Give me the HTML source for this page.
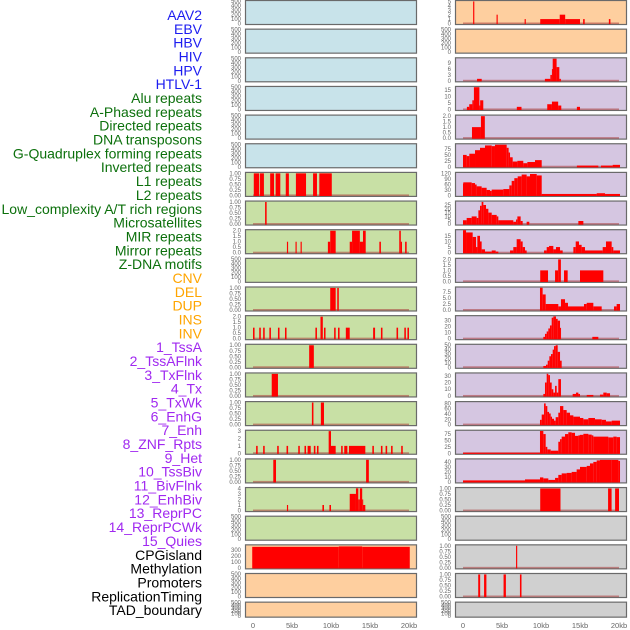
<!DOCTYPE html>
<html><head><meta charset="utf-8"><style>
body{margin:0;background:#fff;width:630px;height:630px;overflow:hidden}
svg{display:block}
.lab{font-family:"Liberation Sans",sans-serif;font-size:14px}
.tk{font-family:"Liberation Sans",sans-serif;font-size:6px;fill:#666}
.xt{font-family:"Liberation Sans",sans-serif;font-size:7.5px;fill:#666}
</style></head><body>
<svg id="c" width="630" height="630" xmlns="http://www.w3.org/2000/svg"></svg>
<script>
const labels = ["AAV2","EBV","HBV","HIV","HPV","HTLV-1","Alu repeats","A-Phased repeats","Directed repeats","DNA transposons","G-Quadruplex forming repeats","Inverted repeats","L1 repeats","L2 repeats","Low_complexity A/T rich regions","Microsatellites","MIR repeats","Mirror repeats","Z-DNA motifs","CNV","DEL","DUP","INS","INV","1_TssA","2_TssAFlnk","3_TxFlnk","4_Tx","5_TxWk","6_EnhG","7_Enh","8_ZNF_Rpts","9_Het","10_TssBiv","11_BivFlnk","12_EnhBiv","13_ReprPC","14_ReprPCWk","15_Quies","CPGisland","Methylation","Promoters","ReplicationTiming","TAD_boundary"];
const labelGroups = [6,13,5,15,5];
const groupColors = ["#1c1cf0","#0c700c","#ffa500","#a028f0","#000000"];
const T500 = ["0","100","200","300","400","500"];
const T1 = ["0.00","0.25","0.50","0.75","1.00"];
const T2 = ["0.0","0.5","1.0","1.5","2.0"];
const T3 = ["0","1","2","3"];
const T4 = ["0","1","2","3","4"];
const T5 = ["0","1","2","3","4","5"];
const T9 = ["0","3","6","9"];
const T15 = ["0","5","10","15"];
const T25 = ["0","5","10","15","20","25"];
const T30 = ["0","10","20","30"];
const T40 = ["0","10","20","30","40"];
const T50 = ["0","10","20","30","40","50"];
const T75 = ["0","25","50","75"];
const T80 = ["0","20","40","60","80"];
const T120 = ["0","30","60","90","120"];
const T300 = ["0","100","200","300"];
const T75b = ["0.0","2.5","5.0","7.5"];
const xTicks = [0,5,10,15,20];
const xTickLabels = ["0","5kb","10kb","15kb","20kb"];
const L6 = [[0.1,0.8,1],[0.9,1.4,1],[2.2,2.7,1],[2.9,3.5,1],[4.2,4.6,1],[5.5,6.8,1],[7.7,8.2,1],[8.5,10.1,1]];
const L7 = [[1.55,1.75,1]];
const L8 = [[4.35,4.5,1],[5.45,5.6,1],[6.1,6.25,1],[9.6,9.9,1],[9.9,10.6,2],[12.4,12.7,1],[12.7,13.7,2],[13.7,14.1,1],[14.1,14.45,2],[16.2,16.4,1],[18.75,18.95,2],[18.95,19.1,1],[19.5,19.7,1]];
const L10 = [[9.9,10.6,1],[10.8,11.0,1]];
const L11 = [[0.0,0.2,1],[0.8,1.0,1],[1.3,1.5,1],[2.1,2.3,1],[3.2,3.4,1],[4.1,4.3,1],[8.0,8.2,1],[8.65,8.95,2],[9.1,9.3,1],[10.4,10.6,1],[10.9,11.1,1],[11.9,12.4,1],[15.4,15.65,1],[16.4,16.6,1],[18.4,18.6,1],[19.4,19.6,1],[19.8,20.0,1]];
const L12 = [[7.2,7.8,1]];
const L13 = [[2.4,3.2,1]];
const L14 = [[7.55,7.75,1],[8.7,9.1,1]];
const L15 = [[0.4,0.6,1],[1.3,1.5,1],[3.1,3.3,1],[4.3,4.5,1],[5.8,6.0,1],[6.6,6.8,1],[7.0,7.4,1],[7.8,8.0,1],[8.2,8.4,1],[9.7,10.0,3],[10.0,10.6,1],[11.3,11.5,1],[11.7,12.1,1],[12.3,14.4,1],[15.3,15.5,1],[16.4,16.6,1],[17.0,17.2,1],[17.7,17.9,1],[19.0,19.2,1]];
const L16 = [[2.6,2.95,1],[14.5,14.85,1]];
const L17 = [[4.35,4.5,1],[8.9,9.1,1],[9.8,10.0,1],[12.4,13.2,3],[13.2,13.5,4],[13.5,13.7,2],[13.7,14.0,4],[14.0,14.1,2],[14.1,14.4,1]];
const L19 = [[-0.1,11,355],[11,14,362],[14,20.1,355]];
const R0 = [[1.3,1.45,5],[4.3,4.45,2],[7.9,8.05,1],[9.9,12.4,1],[12.4,13.1,2],[13.1,15.0,1],[15.4,15.6,1],[18.7,18.9,1]];
const R2 = [[1.8,2.4,1],[10.5,11.2,1],[11.2,11.4,3],[11.4,11.5,6],[11.5,12.0,11.3],[12.0,12.35,7],[12.35,12.55,1]];
const R3 = [[0.5,0.8,2],[0.8,1.2,4],[1.2,1.4,7],[1.4,2.1,17],[2.1,2.2,3],[2.2,2.6,7],[6.9,7.5,2],[10.8,11.4,4],[11.4,12.2,6],[12.2,12.6,3],[14.6,15.0,2]];
const R4 = [[1.15,2.3,1],[2.3,2.8,2]];
const R5_edges = [0,0.47,0.81,1.54,2.18,2.82,3.68,4.1,5.6,5.85,6.03,6.37,6.97,7.73,8.25,9.23,10.09];
const R5_vals = [50,45,55,70,80,90,87,93,80,60,40,22,25,15,20,28];
const R5_extra = [[14.6,17.35,5],[17.69,19.19,5],[19.19,20.13,8]];
const R6_edges = [0,0.04,1.11,1.54,1.75,2.39,3.03,3.46,3.68,5.17,5.94,6.24,6.58,7.01,7.52,8.16,8.59,9.45,10.09,17.14,18.21,20.13];
const R6_vals = [65,72,68,60,50,42,30,25,32,35,55,80,95,105,115,105,118,110,8,12,8];
const R7_edges = [0,0.47,1.11,1.75,1.97,2.18,2.39,2.61,2.95,3.25,3.68,4.32,4.53,6.45,6.8,6.97,7.39,7.65];
const R7_vals = [5,8,10,8,18,24,29,25,20,15,12,10,5,3,6,10,4];
const R7_extra = [[8.16,8.5,3],[14.79,15.43,4]];
const R8_edges = [0,0.39,1.24,1.67,1.84,2.18,2.39,2.82,3.68,4.19,4.53,6.03,6.45,6.88,7.39,7.65,7.95,8.16,10.39,10.73,11.03,11.58,11.92,12.44,12.78,14.15,14.45,14.87,15.21,15.64,17.91,18.33,19.06,19.27,20.13];
const R8_vals = [20,18,14,5,15,10,3,1,2,1,0,2,5,12,10,5,2,0,2,5,6,3,5,2,0,5,10,7,5,2,5,10,5,2];
const R9 = [[9.9,10.9,1],[11.8,12.2,1],[12.2,12.55,2],[12.95,13.42,1],[15.0,17.99,1]];
const R10 = [[9.87,10.21,9.3],[10.21,10.6,6.5],[10.6,12.22,2.5],[12.22,12.56,1.5],[12.56,13.08,4.5],[13.08,13.46,3],[13.46,15.51,1.5],[15.51,15.86,2.5],[15.86,16.71,3],[16.71,17.78,1.5],[19.36,19.7,1.5],[19.7,20.13,2.5]];
const R11 = [[10.3,10.51,3],[10.51,10.73,8],[10.73,10.94,12],[10.94,11.15,17],[11.15,11.37,22],[11.37,11.58,35],[11.58,11.92,37],[11.92,12.14,33],[12.14,12.44,30],[12.44,12.56,18],[16.58,17.35,3]];
const R12 = [[10.3,10.64,3],[10.64,10.86,6],[10.86,11.07,15],[11.07,11.28,25],[11.28,11.5,30],[11.5,11.67,40],[11.67,11.88,48],[11.88,12.14,50],[12.14,12.44,35],[12.44,12.65,15]];
const R13 = [[10.3,10.51,3],[10.51,10.73,20],[10.73,10.94,33],[10.94,11.15,31],[11.15,11.37,20],[11.37,11.58,10],[11.58,11.8,5],[11.8,12.01,15],[12.01,12.22,5],[12.22,12.56,25],[14.06,14.49,3],[14.49,14.79,5],[14.79,15.0,3],[15.86,16.71,1.5],[17.56,17.99,2],[17.99,18.42,5],[18.42,18.85,4]];
const R14_edges = [9.87,10.09,10.39,10.6,10.81,11.03,11.24,11.41,11.67,11.88,12.22,12.44,12.86,13.29,13.72,14.15,15.0,15.43,16.07,16.92,17.78,18.33,19.06,20.13];
const R14_vals = [18,38,80,70,48,42,30,22,15,28,45,70,55,45,35,30,25,20,25,20,18,12,15];
const R15_edges = [0,9.87,10.3,10.6,10.81,11.24,12.22,12.44,12.65,13.08,13.5,13.93,14.36,14.79,15.0,15.43,16.07,16.5,16.71,18.63,19.27,19.7,20.13];
const R15_vals = [2,87,75,25,15,10,45,55,65,75,82,80,68,70,72,76,73,70,65,62,65,63];
const R16_edges = [0,7.95,9.87,10.3,10.94,11.8,12.22,12.65,13.29,13.93,14.57,15.0,15.86,16.28,16.71,17.14,17.56,19.06,19.92,20.13];
const R16_vals = [3,5,9,7,4,8,14,17,18,20,25,30,32,37,40,43,44,44,42];
const R17 = [[9.9,12.5,1],[18.6,19.05,1],[19.5,20.0,1]];
const R19 = [[6.8,6.95,1]];
const R20 = [[1.95,2.2,1],[2.7,3.0,1],[5.2,5.5,1],[7.3,7.5,1]];

const BLUE="#c8e3ea", GREEN="#c8e0a5", PEACH="#fecf9f", PURP="#d5c6e1", GRAY="#d0d0d0";
function steps(e,v){const s=[];for(let i=0;i<v.length;i++)s.push([e[i],e[i+1],v[i]]);return s;}
const leftPanels = [
 {c:BLUE,t:T500,m:500,n:"aav2-ebv"},{c:BLUE,t:T500,m:500,n:"hbv-hiv"},{c:BLUE,t:T500,m:500,n:"hpv-htlv1"},
 {c:BLUE,t:T500,m:500,n:"alu-aphased"},{c:BLUE,t:T500,m:500,n:"directed-dna"},{c:BLUE,t:T500,m:500,n:"gquad-inverted"},
 {c:GREEN,t:T1,m:1.02,d:L6,n:"l1-l2"},{c:GREEN,t:T1,m:1.02,d:L7,n:"lowcomplexity-microsat"},
 {c:GREEN,t:T2,m:2.05,d:L8,n:"mir-mirror"},{c:GREEN,t:T500,m:500,n:"zdna-cnv"},
 {c:GREEN,t:T1,m:1.02,d:L10,n:"del-dup"},{c:GREEN,t:T2,m:2.05,d:L11,n:"ins-inv"},
 {c:GREEN,t:T1,m:1.02,d:L12,n:"tssa-tssaflnk"},{c:GREEN,t:T1,m:1.02,d:L13,n:"txflnk-tx"},
 {c:GREEN,t:T1,m:1.02,d:L14,n:"txwk-enhg"},{c:GREEN,t:T3,m:3.05,d:L15,n:"enh-znf"},
 {c:GREEN,t:T1,m:1.02,d:L16,n:"het-tssbiv"},{c:GREEN,t:T4,m:4.05,d:L17,n:"bivflnk-enhbiv"},
 {c:GREEN,t:T500,m:500,n:"reprpc-reprpcwk"},{c:PEACH,t:T300,m:380,d:L19,n:"quies-cpgisland"},
 {c:PEACH,t:T500,m:500,n:"methylation-promoters"},{c:PEACH,t:T500,m:500,n:"replication-tad"}];
const rightPanels = [
 {c:PEACH,t:T5,m:5.1,d:R0,n:"aav2-r"},{c:PEACH,t:T500,m:500,n:"ebv-r"},
 {c:PURP,t:T9,m:11.5,d:R2,n:"hbv-r"},{c:PURP,t:T15,m:17.2,d:R3,n:"hiv-r"},
 {c:PURP,t:T2,m:2.05,d:R4,n:"hpv-r"},{c:PURP,t:T75,m:95,d:steps(R5_edges,R5_vals).concat(R5_extra),n:"htlv-r"},
 {c:PURP,t:T120,m:124,d:steps(R6_edges,R6_vals),n:"alu-r"},{c:PURP,t:T25,m:29.5,d:steps(R7_edges,R7_vals).concat(R7_extra),n:"aphased-r"},
 {c:PURP,t:T15,m:20,d:steps(R8_edges,R8_vals),n:"directed-r"},{c:PURP,t:T2,m:2.05,d:R9,n:"dna-r"},
 {c:PURP,t:T75b,m:9.4,d:R10,n:"gquad-r"},{c:PURP,t:T30,m:37.5,d:R11,n:"inverted-r"},
 {c:PURP,t:T50,m:51,d:R12,n:"l1-r"},{c:PURP,t:T30,m:33.5,d:R13,n:"l2-r"},
 {c:PURP,t:T80,m:85,d:steps(R14_edges,R14_vals),n:"lowcomplexity-r"},{c:PURP,t:T75,m:88,d:steps(R15_edges,R15_vals),n:"microsat-r"},
 {c:PURP,t:T40,m:45,d:steps(R16_edges,R16_vals),n:"mir-r"},{c:GRAY,t:T1,m:1.02,d:R17,n:"mirror-r"},
 {c:GRAY,t:T500,m:500,n:"zdna-r"},{c:GRAY,t:T1,m:1.02,d:R19,n:"cnv-r"},
 {c:GRAY,t:T1,m:1.02,d:R20,n:"del-r"},{c:GRAY,t:T500,m:500,n:"dup-r"}];

const NS="http://www.w3.org/2000/svg";
const svg=document.getElementById('c');
function mk(tag,attrs,parent){const e=document.createElementNS(NS,tag);for(const k in attrs)e.setAttribute(k,attrs[k]);(parent||svg).appendChild(e);return e;}

let li=0;
labelGroups.forEach((cnt,g)=>{for(let k=0;k<cnt;k++){
  const t=mk('text',{x:202,y:15+li*13.84+5,'text-anchor':'end',class:'lab',fill:groupColors[g]});
  
  
  t.textContent=labels[li];li++;}});

function xs(col,kb){return (col?463:253)+kb*7.8;}
function panelGeom(i){const top=i*28.65;const h=i===21?16:25;return {top,h};}
function ys(i,v,m){const g=panelGeom(i);const y0=g.top+g.h-1.5;return y0-v/m*(g.h-2.5);}

function drawPanel(p,i,col){
  const g=panelGeom(i);const x0=col?455:245;
  const grp=mk('g',{});
  
  
  mk('rect',{x:x0+0.5,y:g.top+0.5,width:171,height:g.h-1,fill:p.c,stroke:'#6a6a6a','stroke-width':1.2},grp);
  p.t.forEach(s=>{const v=parseFloat(s);
    const tt=mk('text',{x:x0-4,y:ys(i,v,p.m)+2,'text-anchor':'end',class:'tk'},grp);
    
    
    tt.textContent=s;});
  if(p.d){
    const y0=ys(i,0,p.m);
    mk('rect',{x:xs(col,0),y:y0-1,width:xs(col,20)-xs(col,0),height:1.6,fill:'rgba(170,60,60,0.55)'},grp);
    p.d.forEach(s=>{if(s[2]<=0)return;
      const xa=xs(col,s[0]),xb=xs(col,s[1]);const yt=ys(i,s[2],p.m);
      const r=mk('rect',{x:xa,y:yt,width:Math.max(xb-xa,1),height:y0-yt+0.6,fill:'#ff0000'},grp);
      
      
    });
  }
}
leftPanels.forEach((p,i)=>drawPanel(p,i,0));
rightPanels.forEach((p,i)=>drawPanel(p,i,1));
[0,1].forEach(col=>{xTicks.forEach((v,k)=>{
  const t=mk('text',{x:xs(col,v),y:628,'text-anchor':'middle',class:'xt'});
  
  
  t.textContent=xTickLabels[k];});});
</script>
</body></html>
